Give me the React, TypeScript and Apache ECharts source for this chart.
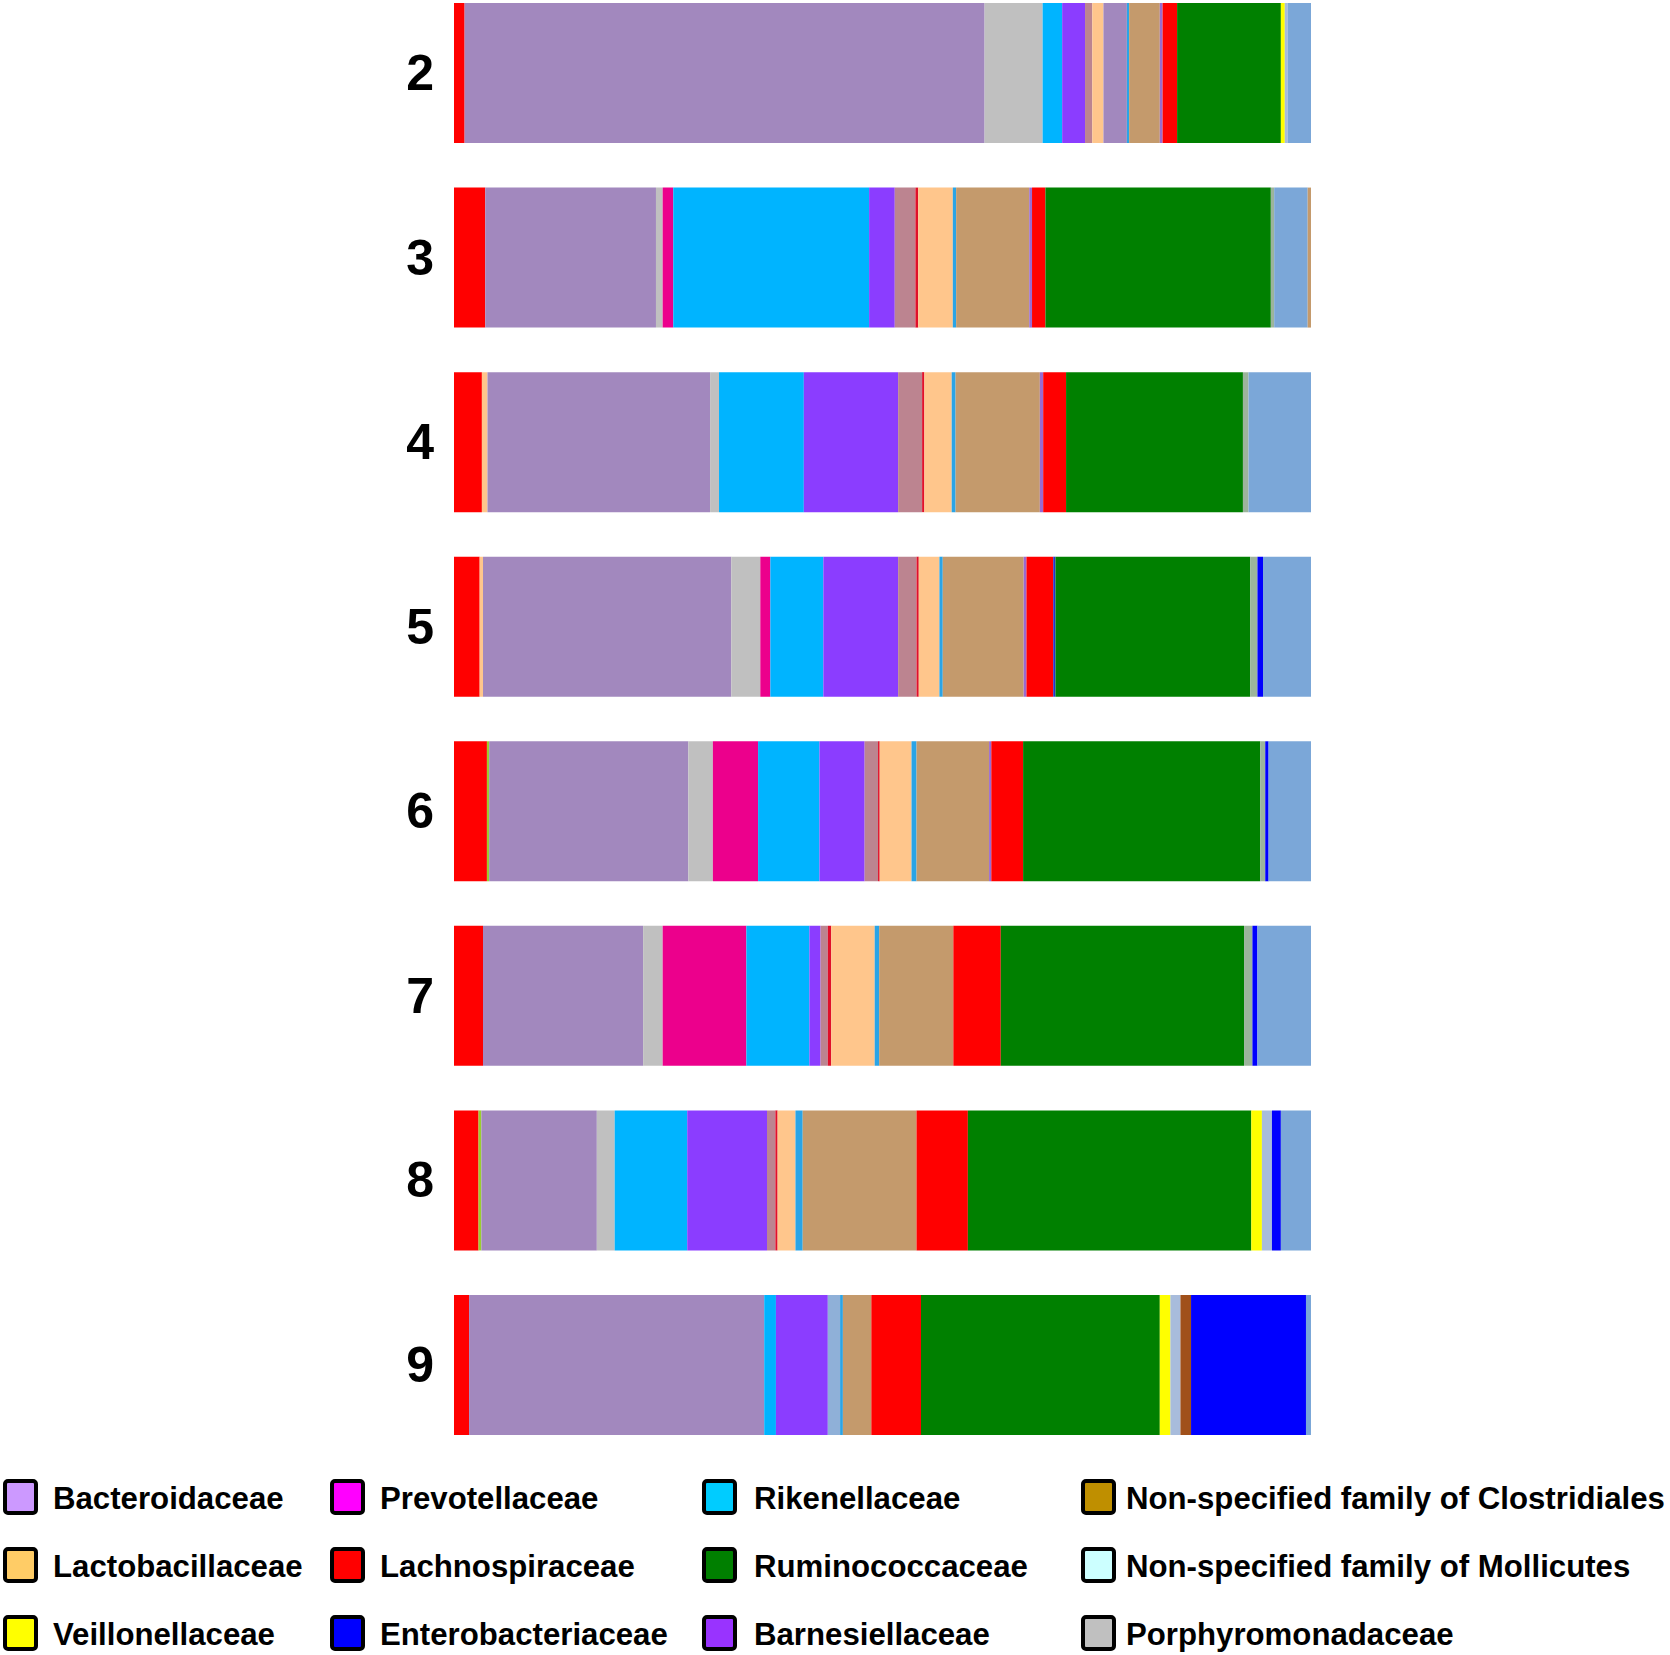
import React, { useEffect, useRef } from "react";
import * as echarts from "echarts";

// Rows (samples), top to bottom
const categories = ["2", "3", "4", "5", "6", "7", "8", "9"];

// Segment readings per row (rows 2..9), in stacking order, left to right
const red1 = [19, 56, 50, 46, 59, 52, 44, 27];
const peachThin = [0, 0, 10, 6, 0, 0, 0, 0];
const oliveThin = [0, 0, 0, 0, 4, 0, 5, 0];
const bacteroidaceae = [932, 306, 399, 445, 357, 287, 207, 529];
const porphyromonadaceae = [104, 12, 16, 52, 44, 35, 32, 0];
const prevotellaceae = [0, 19, 0, 18, 81, 150, 0, 0];
const rikenellaceae = [35, 351, 152, 95, 110, 113, 130, 21];
const barnesiellaceae = [41, 46, 169, 134, 81, 20, 143, 93];
const mauve = [13, 37, 43, 33, 24, 13, 15, 0];
const redThin = [0, 5, 4, 4, 3, 6, 4, 0];
const lactobacillaceae = [20, 62, 49, 37, 57, 78, 32, 0];
const lightBlue = [0, 0, 0, 0, 0, 0, 0, 22];
const purple2 = [42, 0, 0, 0, 0, 0, 0, 0];
const cyanThin = [4, 6, 7, 6, 9, 8, 13, 5];
const tan = [55, 131, 151, 145, 130, 133, 204, 51];
const violetThin = [5, 5, 6, 5, 4, 0, 0, 0];
const lachnospiraceae = [26, 24, 41, 48, 57, 85, 92, 89];
const blueThin = [0, 0, 0, 4, 0, 0, 0, 0];
const ruminococcaceae = [186, 404, 317, 349, 425, 436, 508, 428];
const grayThin = [0, 6, 10, 13, 9, 15, 0, 0];
const veillonellaceae = [7, 0, 0, 0, 0, 0, 19, 19];
const lightBlueGray = [5, 0, 0, 0, 0, 0, 18, 18];
const brown = [0, 0, 0, 0, 0, 0, 0, 19];
const enterobacteriaceae = [0, 0, 0, 10, 6, 9, 16, 206];
const steelBlue = [42, 60, 112, 86, 76, 96, 54, 9];
const tanEnd = [0, 6, 0, 0, 0, 0, 0, 0];

// Legend entries
const legendNames = [
  "Bacteroidaceae", "Prevotellaceae", "Rikenellaceae", "Non-specified family of Clostridiales",
  "Lactobacillaceae", "Lachnospiraceae", "Ruminococcaceae", "Non-specified family of Mollicutes",
  "Veillonellaceae", "Enterobacteriaceae", "Barnesiellaceae", "Porphyromonadaceae",
];
const legendColors = [
  "#CC99FF", "#FF00FF", "#00CCFF", "#BF8F00",
  "#FFCC66", "#FF0000", "#007F00", "#CCFFFF",
  "#FFFF00", "#0000FF", "#9933FF", "#C0C0C0",
];

const segments: { name: string; data: number[]; color: string }[] = [
  { name: "Lachnospiraceae 1", data: red1, color: "#FF0000" },
  { name: "Lactobacillaceae 2", data: peachThin, color: "#FFC68C" },
  { name: "Other 1", data: oliveThin, color: "#9ACD32" },
  { name: "Bacteroidaceae", data: bacteroidaceae, color: "#A288BE" },
  { name: "Porphyromonadaceae", data: porphyromonadaceae, color: "#C0C0C0" },
  { name: "Prevotellaceae", data: prevotellaceae, color: "#EC008C" },
  { name: "Rikenellaceae", data: rikenellaceae, color: "#00B4FF" },
  { name: "Barnesiellaceae", data: barnesiellaceae, color: "#8B3DFF" },
  { name: "Other 2", data: mauve, color: "#BC8490" },
  { name: "Lachnospiraceae 2", data: redThin, color: "#E0102A" },
  { name: "Lactobacillaceae", data: lactobacillaceae, color: "#FFC68C" },
  { name: "Other 3", data: lightBlue, color: "#8FB0D8" },
  { name: "Bacteroidaceae 2", data: purple2, color: "#A288BE" },
  { name: "Rikenellaceae 2", data: cyanThin, color: "#2AA4E6" },
  { name: "Other 4", data: tan, color: "#C49A6C" },
  { name: "Other 5", data: violetThin, color: "#9A6AD0" },
  { name: "Lachnospiraceae", data: lachnospiraceae, color: "#FF0000" },
  { name: "Enterobacteriaceae 2", data: blueThin, color: "#2233CC" },
  { name: "Ruminococcaceae", data: ruminococcaceae, color: "#008000" },
  { name: "Other 6", data: grayThin, color: "#9CB49C" },
  { name: "Veillonellaceae", data: veillonellaceae, color: "#FFFF00" },
  { name: "Other 7", data: lightBlueGray, color: "#A8BCDC" },
  { name: "Non-specified family of Clostridiales", data: brown, color: "#A0501A" },
  { name: "Enterobacteriaceae", data: enterobacteriaceae, color: "#0000FF" },
  { name: "Other 8", data: steelBlue, color: "#7BA7D8" },
  { name: "Other 9", data: tanEnd, color: "#C49A6C" },
];

const FONT = "'Liberation Sans', Arial, Helvetica, sans-serif";

export default function App() {
  const ref = useRef<HTMLDivElement>(null);

  useEffect(() => {
    document.body.style.margin = "0";
    if (!ref.current) return;
    const chart = echarts.init(ref.current, null, { renderer: "svg" });

    const totals = categories.map((_, i) =>
      segments.reduce((s, seg) => s + seg.data[i], 0)
    );

    const series = segments.map((seg) => ({
      name: seg.name,
      type: "bar" as const,
      stack: "total",
      barWidth: 140,
      clip: false,
      silent: true,
      itemStyle: { color: seg.color },
      data: seg.data.map((v, i) => (v / totals[i]) * 100),
    }));

    const colX = [5, 332, 704, 1083];
    const textX = [53, 380, 754, 1126];
    const rowY = [1481, 1549, 1617];
    const graphics: any[] = [];
    legendNames.forEach((name, k) => {
      const r = Math.floor(k / 4);
      const c = k % 4;
      graphics.push({
        type: "rect",
        x: colX[c],
        y: rowY[r],
        shape: { x: 0, y: 0, width: 31, height: 32, r: 3 },
        style: { fill: legendColors[k], stroke: "#000", lineWidth: 4 },
      });
      graphics.push({
        type: "text",
        x: textX[c],
        y: rowY[r] + 17,
        style: {
          text: name,
          fill: "#000",
          font: `bold 31.2px ${FONT}`,
          verticalAlign: "middle",
        },
      });
    });

    chart.setOption({
      animation: false,
      backgroundColor: "#fff",
      grid: { left: 454, width: 857, top: 73, height: 1292 },
      xAxis: { type: "value", min: 0, max: 100, show: false },
      yAxis: {
        type: "category",
        data: categories,
        inverse: true,
        boundaryGap: false,
        axisLine: { show: false },
        axisTick: { show: false },
        splitLine: { show: false },
        axisLabel: {
          margin: 20,
          fontSize: 50,
          fontWeight: "bold",
          fontFamily: FONT,
          color: "#000",
        },
      },
      series,
      graphic: graphics,
    });

    return () => chart.dispose();
  }, []);

  return <div ref={ref} style={{ width: 1670, height: 1655 }} />;
}
